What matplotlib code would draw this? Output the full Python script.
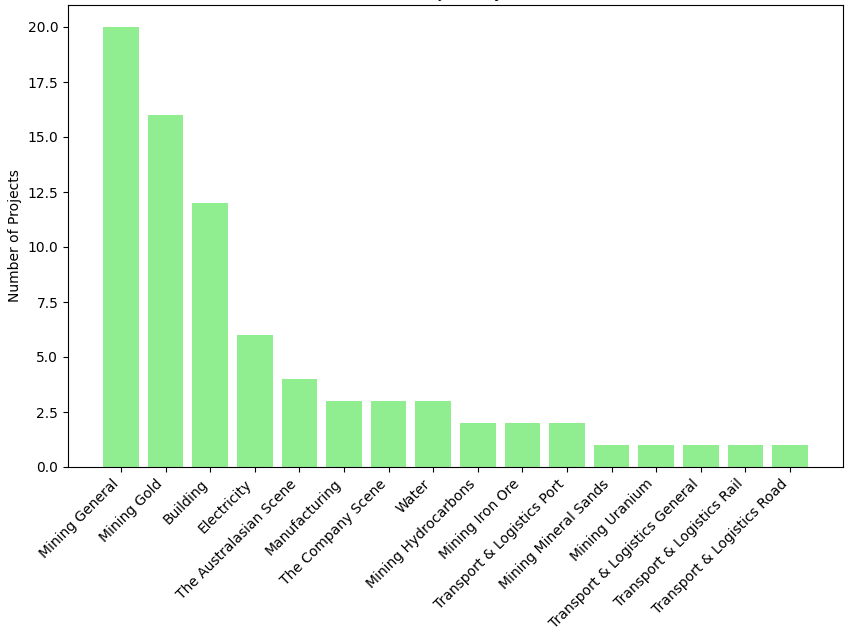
import matplotlib
matplotlib.use("Agg")
import matplotlib.pyplot as plt

sectors = ["Mining General", "Mining Gold", "Building", "Electricity",
           "The Australasian Scene", "Manufacturing", "The Company Scene",
           "Water", "Mining Hydrocarbons", "Mining Iron Ore",
           "Transport & Logistics Port", "Mining Mineral Sands",
           "Mining Uranium", "Transport & Logistics General",
           "Transport & Logistics Rail", "Transport & Logistics Road"]
project_counts = [20, 16, 12, 6, 4, 3, 3, 3, 2, 2, 2, 1, 1, 1, 1, 1]

fig = plt.figure(figsize=(8.49, 6.32), dpi=100)
ax = fig.add_axes([68 / 849, 1 - 467 / 632, (843 - 68) / 849, (467 - 5) / 632])
ax.bar(sectors, project_counts, color="lightgreen")
ax.set_ylabel("Number of Projects")
ax.set_title("Number of Projects by Industries")
plt.setp(ax.get_xticklabels(), rotation=45, ha="right")

fig.savefig("out.png", dpi=100)
